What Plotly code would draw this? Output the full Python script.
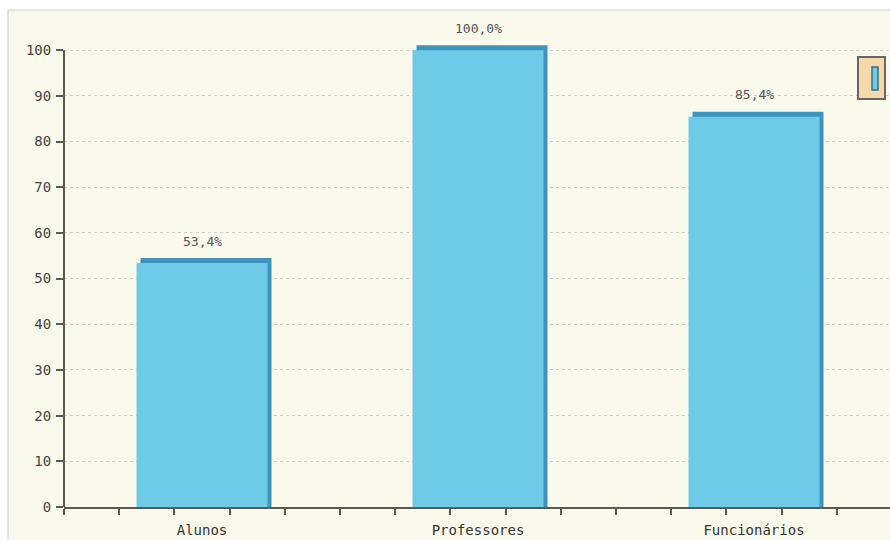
import plotly.graph_objects as go

categories = ["Alunos", "Professores", "Funcionários"]
values = [53.4, 100.0, 85.4]
y_ticks = [0, 10, 20, 30, 40, 50, 60, 70, 80, 90, 100]

W, H = 890, 540
Y_TOP = 102.0
PX_PER_UNIT = 4.57
MB = 33
PH_I = round(Y_TOP * PX_PER_UNIT)
ML, MR, MT = 64, 0, H - MB - PH_I
PW, PH = W - ML - MR, PH_I
CAT_PX = 276.0
px_x = 1.0 / CAT_PX          # data units per pixel (x)
px_y = Y_TOP / PH            # data units per pixel (y)

def paper_x(px):
    return (px - ML) / PW

def paper_y(py):
    return (H - MB - py) / PH

xs = list(range(len(categories)))
bar_w = 131 * px_x
bar_off = -bar_w / 2

FONT = "DejaVu Sans Mono"
AXIS_C = "#5a5a52"

fig = go.Figure()
# shadow (3D edge)
fig.add_trace(go.Bar(
    x=xs, y=[v + 5 * px_y for v in values], width=bar_w, offset=bar_off + 4 * px_x,
    marker=dict(color="#3d95bd", line=dict(width=0)), hoverinfo="skip", showlegend=False))
# main bar
fig.add_trace(go.Bar(
    x=xs, y=values, width=bar_w, offset=bar_off,
    marker=dict(color="#6ecbe8", line=dict(width=0)), showlegend=False))

for i, v in enumerate(values):
    fig.add_annotation(x=i, y=v, text=f"{v:.1f}%".replace(".", ","), showarrow=False,
                       yshift=22, font=dict(family=FONT, size=13, color="#555555"))

minor_ticks = [-0.5 + k * 0.2 for k in range(16)]

fig.update_layout(
    width=W, height=H,
    margin=dict(l=ML, r=MR, t=MT, b=MB, pad=0),
    paper_bgcolor="white", plot_bgcolor="rgba(0,0,0,0)",
    barmode="overlay", showlegend=False,
    xaxis=dict(range=[-0.5, -0.5 + PW / CAT_PX], tickmode="array", tickvals=xs, ticktext=categories,
               ticks="", showgrid=False, zeroline=False, showline=True, linecolor=AXIS_C, linewidth=2,
               tickfont=dict(family=FONT, size=14, color="#333333"), ticklabelstandoff=9,
               minor=dict(tickmode="array", tickvals=minor_ticks, ticks="outside", ticklen=6,
                          tickcolor=AXIS_C, tickwidth=2, showgrid=False)),
    yaxis=dict(range=[0, Y_TOP], tickmode="array", tickvals=y_ticks, ticks="outside", ticklen=7,
               tickcolor=AXIS_C, tickwidth=2, showline=False,
               showgrid=True, gridcolor="#cfcfc4", griddash="dot", gridwidth=1, zeroline=False,
               tickfont=dict(family=FONT, size=14, color="#444444"), ticklabelstandoff=2),
    shapes=[
        dict(type="rect", xref="paper", yref="paper", layer="below",
             x0=paper_x(8), x1=paper_x(900), y0=paper_y(560), y1=paper_y(10),
             fillcolor="#fafaec", line=dict(color="#c8c8c0", width=1)),
        # y axis line spanning the tick range only
        dict(type="line", xref="paper", yref="y", x0=0, x1=0, y0=y_ticks[0], y1=y_ticks[-1],
             line=dict(color=AXIS_C, width=2)),
        dict(type="rect", xref="paper", yref="paper",
             x0=paper_x(858), x1=paper_x(885), y0=paper_y(99), y1=paper_y(57),
             fillcolor="#f7d8a8", line=dict(color="#666666", width=2)),
        dict(type="rect", xref="paper", yref="paper",
             x0=paper_x(872), x1=paper_x(878), y0=paper_y(90), y1=paper_y(67),
             fillcolor="#6ecbe8", line=dict(color="#3a6f88", width=1.5)),
    ],
)

fig.write_html("out.html")
